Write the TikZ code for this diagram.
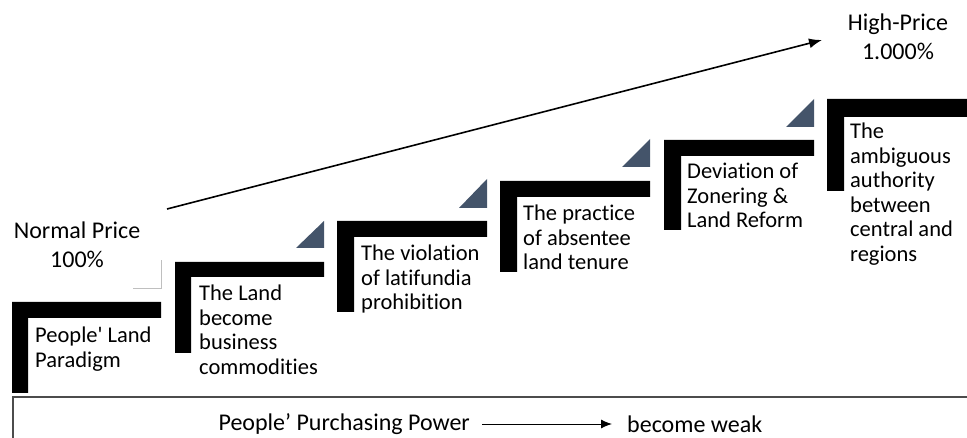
\documentclass[tikz,border=0pt]{standalone}
\usepackage{fontspec}
\setmainfont{Carlito}[Ligatures={TeX,NoCommon}]
\usetikzlibrary{arrows.meta,positioning}
\definecolor{slate}{HTML}{44546A}

\begin{document}
\begin{tikzpicture}[x=1pt,y=-1pt,>={Latex[length=13pt,width=10pt]},
  every node/.style={font=\fontsize{22.5}{24.5}\selectfont,inner sep=0pt},
  steptext/.style={anchor=north west,align=left,execute at begin node=\strut},
  pricetext/.style={align=center,font=\fontsize{24}{29}\selectfont}]
\useasboundingbox (0,0) rectangle (967,438);
\tikzset{bar/.style={fill=black}}
\tikzset{corner/.style={fill=slate}}

% steps
\fill[bar] (12,302) rectangle ++(149,16) (12,302) rectangle ++(16,91);
\fill[bar] (175,262) rectangle ++(149,15) (175,262) rectangle ++(16,91);
\fill[bar] (337,221) rectangle ++(150,16) (337,221) rectangle ++(17,91);
\fill[bar] (500,181) rectangle ++(150,16) (500,181) rectangle ++(17,91);
\fill[bar] (664,140) rectangle ++(150,16) (664,140) rectangle ++(17,90);
\fill[bar] (827,99) rectangle ++(145,18) (827,99) rectangle ++(17,92);

% corners
\draw[gray!50,line width=0.8pt] (133,288) -- (161,288) -- (161,260);
\fill[corner] (296,248) -- (324,248) -- (324,221) -- cycle;
\fill[corner] (459,208) -- (487,208) -- (487,179) -- cycle;
\fill[corner] (622,167) -- (650,167) -- (650,139) -- cycle;
\fill[corner] (786,127) -- (814,127) -- (814,99) -- cycle;

\node[steptext] (paradigm) at (35,327) {People\textquotesingle{} Land\\Paradigm};
\node[steptext] (business) at (199,285) {The Land\\become\\business\\commodities};
\node[steptext] (latifundia) at (361,245) {The violation\\of latifundia\\prohibition};
\node[steptext] (absentee) at (523,205) {The practice\\of absentee\\land tenure};
\node[steptext] (zoning) at (687,163) {Deviation of\\Zonering \&\\Land Reform};
\node[steptext] (authority) at (850,123) {The\\ambiguous\\authority\\between\\central and\\regions};

\node[pricetext] (normal) at (77,245) {Normal Price\\100\%};
\node[pricetext] (high) at (898,37) {High-Price\\1.000\%};

\coordinate (low) at (167,209);
\coordinate (top) at (822,40);
\draw[->,line width=1.6pt] (low) -- (top);

% purchasing power
\draw[gray!60!black,line width=2pt] (13,445) -- (13,397) -- (975,397);
\node[anchor=east,font=\fontsize{24}{29}\selectfont] (power) at (470,424) {People’ Purchasing Power};
\node[anchor=west,font=\fontsize{24}{29}\selectfont] (weak) at (627,424) {become weak};
\draw[->,line width=1pt,>={Latex[length=11pt,width=9pt]},shorten <=12pt,shorten >=15pt] (power) -- (weak);
\end{tikzpicture}
\end{document}
